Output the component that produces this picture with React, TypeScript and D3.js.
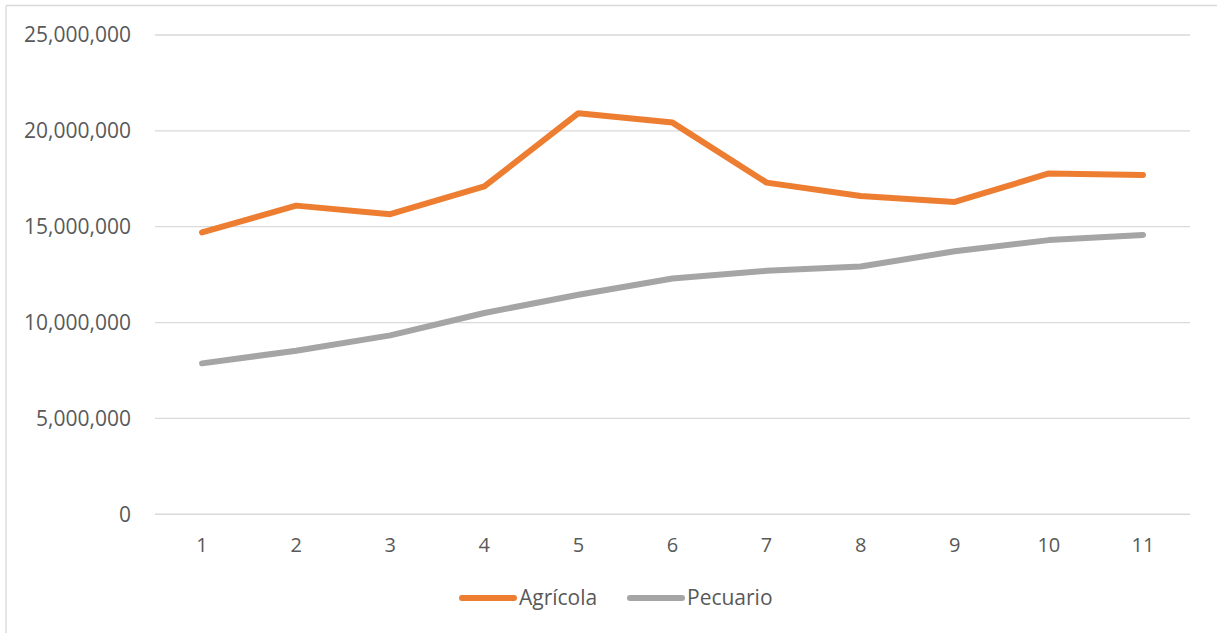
import * as d3 from 'd3';
import { useEffect, useRef } from 'react';

const categories = ['1', '2', '3', '4', '5', '6', '7', '8', '9', '10', '11'];
const agricola = [
  14700000, 16100000, 15650000, 17100000, 20920000, 20430000, 17300000, 16600000, 16290000,
  17780000, 17700000,
];
const pecuario = [
  7870000, 8530000, 9330000, 10500000, 11450000, 12300000, 12700000, 12920000, 13720000,
  14300000, 14570000,
];
const yTicks = [0, 5000000, 10000000, 15000000, 20000000, 25000000];
const seriesNames = ['Agrícola', 'Pecuario'];
const seriesColors = ['#ED7D31', '#A5A5A5'];

const App = () => {
  const svgRef = useRef<any>();
  const width = 1217;
  const height = 633;
  const marginLeft = 155;
  const marginRight = 27;
  const marginTop = 35;
  const bottomY = 514.25;
  const font = '"Open Sans", sans-serif';

  useEffect(() => {
    const svg = d3.select(svgRef.current);
    svg.selectAll('*').remove();

    svg.append('rect').attr('width', width).attr('height', height).attr('fill', '#ffffff');

    // chart frame (only top and left edges show)
    svg
      .append('line')
      .attr('x1', 6)
      .attr('x2', width)
      .attr('y1', 5.5)
      .attr('y2', 5.5)
      .attr('stroke', '#d9d9d9')
      .attr('stroke-width', 1.3);
    svg
      .append('line')
      .attr('x1', 6)
      .attr('x2', 6)
      .attr('y1', 5.5)
      .attr('y2', height)
      .attr('stroke', '#d9d9d9')
      .attr('stroke-width', 1.3);

    const xScale = d3
      .scaleBand()
      .domain(categories)
      .range([marginLeft, width - marginRight]);
    const yScale = d3.scaleLinear().domain([0, 25000000]).range([bottomY, marginTop]);
    const fmt = d3.format(',');

    // gridlines
    svg
      .append('g')
      .selectAll('line')
      .data(yTicks)
      .enter()
      .append('line')
      .attr('x1', marginLeft)
      .attr('x2', width - marginRight)
      .attr('y1', (d) => yScale(d))
      .attr('y2', (d) => yScale(d))
      .attr('stroke', '#d9d9d9')
      .attr('stroke-width', 1.3);

    // y labels
    svg
      .append('g')
      .selectAll('text')
      .data(yTicks)
      .enter()
      .append('text')
      .attr('x', 131)
      .attr('y', (d) => yScale(d))
      .attr('dy', '0.35em')
      .attr('text-anchor', 'end')
      .attr('font-family', font)
      .attr('font-size', 21)
      .attr('fill', '#595959')
      .text((d) => fmt(d));

    // x labels
    svg
      .append('g')
      .selectAll('text')
      .data(categories)
      .enter()
      .append('text')
      .attr('x', (d) => (xScale(d) as number) + xScale.bandwidth() / 2)
      .attr('y', 552)
      .attr('text-anchor', 'middle')
      .attr('font-family', font)
      .attr('font-size', 20)
      .attr('fill', '#595959')
      .text((d) => d);

    const line = d3
      .line<number>()
      .x((_, i) => (xScale(categories[i]) as number) + xScale.bandwidth() / 2)
      .y((d) => yScale(d));

    [agricola, pecuario].forEach((values, i) => {
      svg
        .append('path')
        .datum(values)
        .attr('d', line)
        .attr('fill', 'none')
        .attr('stroke', seriesColors[i])
        .attr('stroke-width', 6)
        .attr('stroke-linecap', 'round')
        .attr('stroke-linejoin', 'round');
    });

    // legend
    const legendX = [460, 628];
    const legend = svg.append('g');
    seriesNames.forEach((name, i) => {
      legend
        .append('line')
        .attr('x1', legendX[i] + 2)
        .attr('x2', legendX[i] + 54)
        .attr('y1', 598)
        .attr('y2', 598)
        .attr('stroke', seriesColors[i])
        .attr('stroke-width', 6)
        .attr('stroke-linecap', 'round');
      legend
        .append('text')
        .attr('x', legendX[i] + 59)
        .attr('y', 598)
        .attr('dy', '0.35em')
        .attr('font-family', font)
        .attr('font-size', 21)
        .attr('fill', '#595959')
        .text(name);
    });
  }, []);

  return (
    <svg
      ref={svgRef}
      width={width}
      height={height}
      style={{ position: 'absolute', left: 0, top: 0, display: 'block' }}
    />
  );
};

export default App;
